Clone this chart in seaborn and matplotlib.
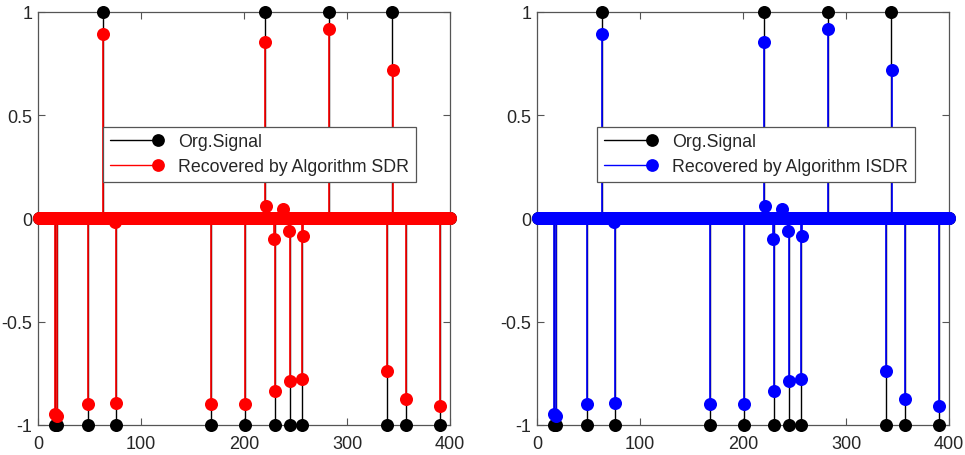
import numpy as np
import pandas as pd
import matplotlib
matplotlib.use("Agg")
import matplotlib.pyplot as plt
from matplotlib.lines import Line2D
from matplotlib.legend_handler import HandlerBase
import seaborn as sns

# ---- data ----
n_samples = 400
org_idx = [16, 18, 49, 63, 76, 168, 201, 220, 230, 245, 256, 282, 339, 344, 357, 390]
org_val = [-1, -1, -1, 1, -1, -1, -1, 1, -1, -1, -1, 1, -1, 1, -1, -1]

sdr_idx = [16, 18, 49, 63, 75, 76, 168, 201, 220, 221, 229, 230, 238, 244, 245,
           256, 257, 282, 339, 345, 357, 390]
sdr_val = [-0.947, -0.958, -0.90, 0.895, -0.015, -0.895, -0.90, -0.90, 0.855, 0.06,
           -0.10, -0.837, 0.044, -0.06, -0.785, -0.777, -0.086, 0.915, -0.737, 0.72,
           -0.874, -0.906]

isdr_idx = [16, 18, 49, 63, 75, 76, 168, 201, 220, 221, 229, 230, 238, 244, 245,
            256, 257, 282, 339, 345, 357, 390]
isdr_val = [-0.947, -0.958, -0.90, 0.895, -0.015, -0.895, -0.90, -0.90, 0.855, 0.06,
            -0.10, -0.837, 0.044, -0.06, -0.785, -0.777, -0.086, 0.915, -0.737, 0.72,
            -0.874, -0.906]

x_ticks = [0, 100, 200, 300, 400]
y_ticks = [-1, -0.5, 0, 0.5, 1]
y_ticklabels = ["-1", "-0.5", "0", "0.5", "1"]

labels_left = ["Org.Signal", "Recovered by Algorithm SDR"]
labels_right = ["Org.Signal", "Recovered by Algorithm ISDR"]


def full_signal(idx, val):
    s = np.zeros(n_samples)
    s[np.array(idx) - 1] = val
    return pd.DataFrame({"n": np.arange(1, n_samples + 1), "v": s})


class StemHandler(HandlerBase):
    """Line with a single marker at its right end (MATLAB stem legend)."""
    def create_artists(self, legend, orig_handle, xdescent, ydescent,
                       width, height, fontsize, trans):
        y = (height - ydescent) / 2
        line = Line2D([-xdescent, width - xdescent], [y, y],
                      color=orig_handle.get_color(), lw=orig_handle.get_linewidth())
        mark = Line2D([width - xdescent], [y], linestyle="none", marker="o",
                      markersize=orig_handle.get_markersize(),
                      markerfacecolor=orig_handle.get_color(),
                      markeredgewidth=0)
        line.set_transform(trans)
        mark.set_transform(trans)
        return [line, mark]


sns.set_theme(style="white")
plt.rcParams["font.family"] = ["Liberation Sans", "DejaVu Sans"]

TXT = "#262626"
EDGE = "#555555"

fig = plt.figure(figsize=(9.65, 4.56), dpi=100)
ax1 = fig.add_axes([0.0394, 0.0658, 0.427, 0.906])
ax2 = fig.add_axes([0.5565, 0.0658, 0.427, 0.906])

panels = [
    (ax1, full_signal(sdr_idx, sdr_val), "#ff0000", labels_left, (0.158, 0.722)),
    (ax2, full_signal(isdr_idx, isdr_val), "#0000ff", labels_right, (0.146, 0.722)),
]

org_df = full_signal(org_idx, org_val)
MS = 88

for ax, rec_df, col, labels, anchor in panels:
    # original signal (black)
    nz = org_df[org_df.v != 0]
    ax.vlines(nz.n, 0, nz.v, colors="black", lw=1.0, zorder=2)
    sns.scatterplot(data=org_df, x="n", y="v", color="black", s=MS, linewidth=0,
                    ax=ax, zorder=3, clip_on=False, legend=False)
    # recovered signal
    nz = rec_df[rec_df.v != 0]
    ax.vlines(nz.n, 0, nz.v, colors=col, lw=1.2, zorder=4)
    ax.axhline(0, color=col, lw=1.0, zorder=4)
    sns.scatterplot(data=rec_df, x="n", y="v", color=col, s=MS, linewidth=0,
                    ax=ax, zorder=5, clip_on=False, legend=False)

    ax.set_xlim(0, 400)
    ax.set_ylim(-1, 1)
    ax.set_xticks(x_ticks)
    ax.set_yticks(y_ticks)
    ax.set_yticklabels(y_ticklabels)
    ax.set_xlabel("")
    ax.set_ylabel("")
    ax.tick_params(direction="in", length=5, width=0.8, colors=EDGE,
                   labelcolor=TXT, labelsize=13, top=True, right=True,
                   bottom=True, left=True, pad=4)
    ax.tick_params(axis="x", pad=7)
    for sp in ax.spines.values():
        sp.set_color(EDGE)
        sp.set_linewidth(0.9)

    handles = [
        Line2D([], [], color="black", lw=1.0, marker="o", markersize=9.2),
        Line2D([], [], color=col, lw=1.0, marker="o", markersize=9.2),
    ]
    leg = ax.legend(handles, labels, loc="upper left", bbox_to_anchor=anchor,
                    handler_map={Line2D: StemHandler()},
                    fontsize=12.8, frameon=True, fancybox=False,
                    framealpha=1, edgecolor=EDGE, borderpad=0.38,
                    handlelength=2.7, handletextpad=1.15, labelspacing=0.45,
                    borderaxespad=0)
    leg.get_frame().set_linewidth(0.9)
    leg.set_zorder(10)
    for t in leg.get_texts():
        t.set_color(TXT)

fig.savefig("out.png", dpi=100)
